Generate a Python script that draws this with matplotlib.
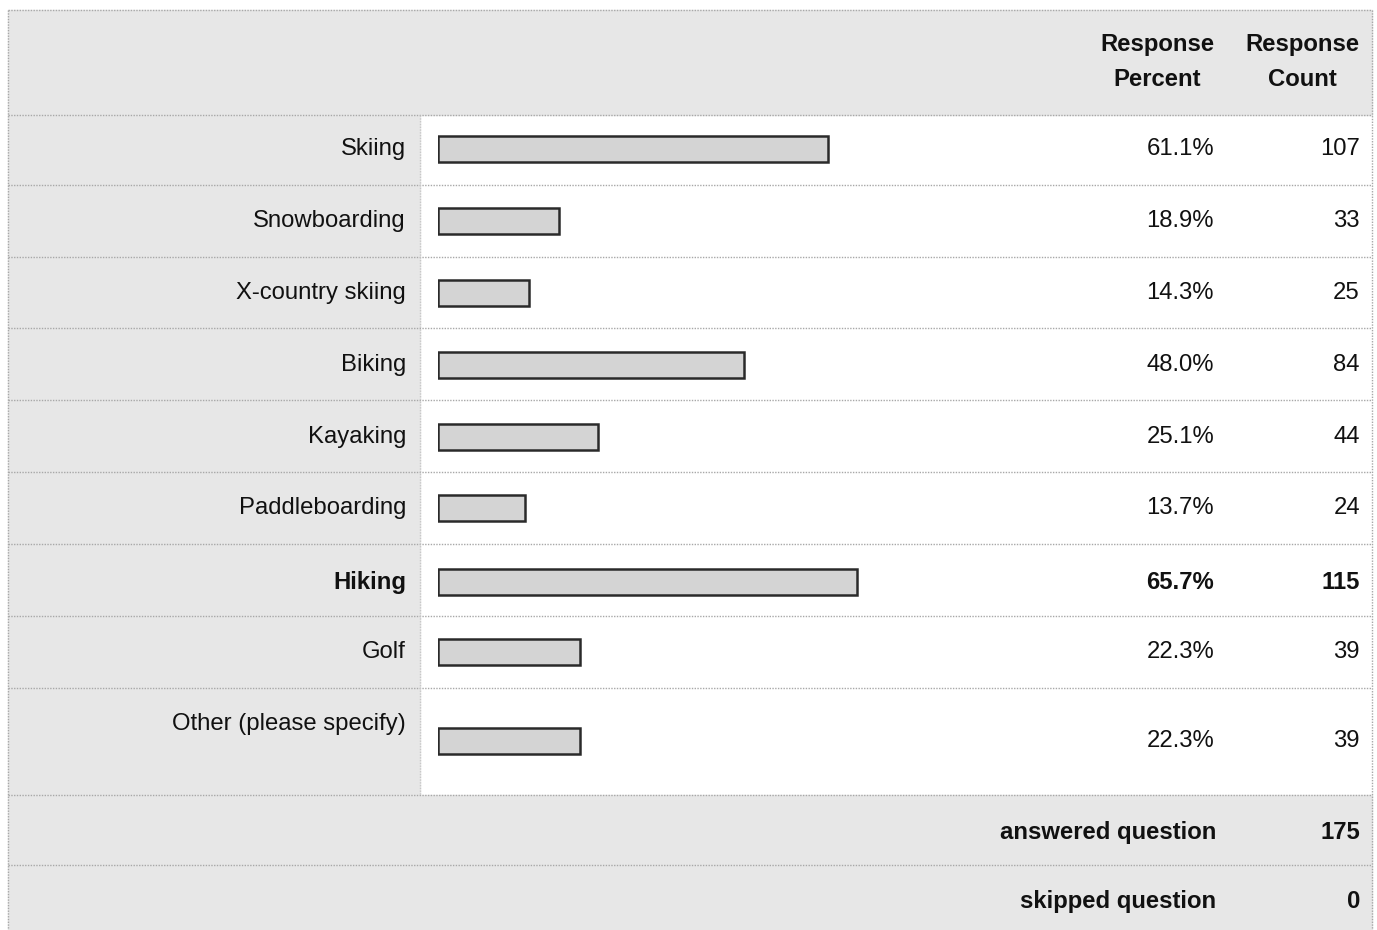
import matplotlib.pyplot as plt
from matplotlib.patches import Rectangle

plt.rcParams['font.family'] = ['Liberation Sans', 'DejaVu Sans']

# survey data
activities = ['Skiing', 'Snowboarding', 'X-country skiing', 'Biking', 'Kayaking',
              'Paddleboarding', 'Hiking', 'Golf', 'Other (please specify)']
percent = [61.1, 18.9, 14.3, 48.0, 25.1, 13.7, 65.7, 22.3, 22.3]
counts = [107, 33, 25, 84, 44, 24, 115, 39, 39]
answered = 175
skipped = 0
bold_row = 'Hiking'

# layout (pixels, from top of image)
W, H = 1377, 930
row_edges = [115, 185, 257, 328, 400, 472, 544, 616, 688, 795]
label_y = [149, 221, 293, 365, 437, 508, 582, 652, 724]
bar_y = [149, 221, 293, 365, 437, 508, 582, 652, 741]
foot_edges = [795, 865, 930]
bar_x0, bar_x100 = 438, 1076
gray = '#e7e7e7'
line_col = '#a8a8a8'
fs = 17.2

fig = plt.figure(figsize=(W / 100, H / 100), dpi=100)
ax = fig.add_axes([0, 0, 1, 1])
ax.set_xlim(0, W)
ax.set_ylim(H, 0)
ax.axis('off')

# backgrounds
ax.add_patch(Rectangle((0, 0), W, H, color='white', zorder=0))
ax.add_patch(Rectangle((8, 10), W - 13, 105, color=gray, zorder=1))
ax.add_patch(Rectangle((8, 115), 412, 680, color=gray, zorder=1))
ax.add_patch(Rectangle((8, 795), W - 13, 135, color=gray, zorder=1))

# grid lines
for y in [10] + row_edges + foot_edges[1:2]:
    ax.plot([8, W - 5], [y, y], color=line_col, lw=1, ls=(0, (1, 1)), zorder=2)
ax.plot([8, 8], [10, H], color=line_col, lw=1, ls=(0, (1, 1)), zorder=2)
ax.plot([420, 420], [115, 795], color='#c8c8c8', lw=1, ls=(0, (1, 1)), zorder=2)
ax.plot([W - 5, W - 5], [10, H], color=line_col, lw=1, ls=(0, (1, 1)), zorder=2)

# header
hdr = dict(fontsize=fs, fontweight='bold', ha='center', va='center', color='#111111')
ax.text(1157, 45, 'Response', **hdr)
ax.text(1157, 80, 'Percent', **hdr)
ax.text(1302, 45, 'Response', **hdr)
ax.text(1302, 80, 'Count', **hdr)

# rows
for i, name in enumerate(activities):
    fw = 'bold' if name == bold_row else 'normal'
    ax.text(406, label_y[i], name, fontsize=fs, ha='right', va='center',
            fontweight=fw, color='#111111')
    ax.text(1214, bar_y[i], f'{percent[i]:.1f}%', fontsize=fs, ha='right',
            va='center', fontweight=fw, color='#111111')
    ax.text(1360, bar_y[i], str(counts[i]), fontsize=fs, ha='right',
            va='center', fontweight=fw, color='#111111')

# footer
ax.text(1216, 832, 'answered question', fontsize=fs, fontweight='bold',
        ha='right', va='center', color='#111111')
ax.text(1360, 832, str(answered), fontsize=fs, fontweight='bold',
        ha='right', va='center', color='#111111')
ax.text(1216, 901, 'skipped question', fontsize=fs, fontweight='bold',
        ha='right', va='center', color='#111111')
ax.text(1360, 901, str(skipped), fontsize=fs, fontweight='bold',
        ha='right', va='center', color='#111111')

# bars on their own percent scale
bax = fig.add_axes([bar_x0 / W, 0, (bar_x100 - bar_x0) / W, 1])
bax.set_xlim(0, 100)
bax.set_ylim(H, 0)
bax.axis('off')
bax.patch.set_alpha(0)
bax.barh(bar_y, percent, height=26, left=0, color='#d4d4d4',
         edgecolor='#2a2a2a', linewidth=1.8, zorder=3)

fig.savefig('out.png', dpi=100)
